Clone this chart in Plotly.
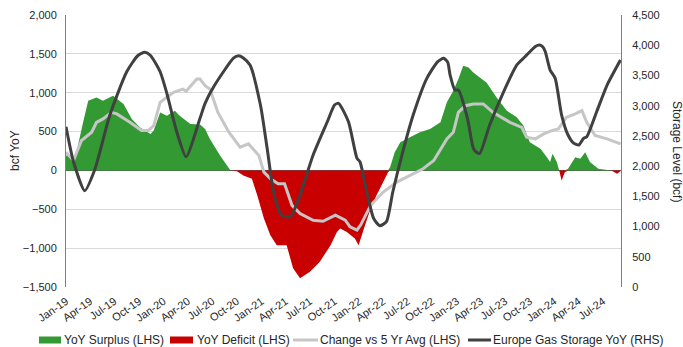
import numpy as np
import plotly.graph_objects as go

# YoY surplus / deficit vs last year (bcf, LHS)
yoy_dates = [
    "2019-01-01", "2019-02-05", "2019-03-06", "2019-03-25", "2019-04-25", "2019-05-19",
    "2019-06-26", "2019-08-04", "2019-09-04", "2019-10-04", "2019-11-13", "2019-11-25",
    "2019-12-19", "2020-01-13", "2020-02-12", "2020-03-01", "2020-04-10", "2020-05-16",
    "2020-06-04", "2020-06-22", "2020-07-30", "2020-09-07", "2020-10-01", "2020-10-25",
    "2020-11-26", "2020-12-16", "2021-01-10", "2021-02-03", "2021-02-27", "2021-04-05",
    "2021-04-29", "2021-05-25", "2021-07-01", "2021-08-07", "2021-09-16", "2021-10-10",
    "2021-10-22", "2021-11-16", "2021-12-16", "2021-12-30", "2022-01-19", "2022-02-13",
    "2022-03-07", "2022-04-01", "2022-04-19", "2022-04-27", "2022-05-14", "2022-06-04",
    "2022-07-10", "2022-08-16", "2022-09-23", "2022-11-01", "2022-11-25", "2022-12-19",
    "2023-01-07", "2023-01-25", "2023-02-14", "2023-03-04", "2023-03-28", "2023-04-22",
    "2023-05-30", "2023-07-07", "2023-08-13", "2023-09-07", "2023-10-01", "2023-11-10",
    "2023-12-04", "2023-12-16", "2023-12-25", "2024-01-10", "2024-01-19", "2024-01-28",
    "2024-02-09", "2024-02-21", "2024-03-19", "2024-04-07", "2024-04-25", "2024-05-13",
    "2024-06-13", "2024-07-10", "2024-08-01", "2024-08-22", "2024-09-04",
]
yoy_values = [
    192, 171, 619, 897, 940, 897,
    962, 855, 663, 555, 470, 513,
    747, 705, 769, 705, 599, 590,
    534, 406, 192, 0, -10, -64,
    -106, -321, -619, -833, -962, -962,
    -1260, -1389, -1304, -1176, -962, -791,
    -748, -791, -876, -962, -748, -491,
    -321, -150, -22, 43, 235, 363,
    427, 491, 534, 619, 876, 1026,
    1176, 1346, 1325, 1260, 1197, 1132,
    940, 769, 683, 577, 363, 278,
    171, 107, 214, 107, 0, -128,
    -22, 22, 171, 150, 235, 107,
    22, 10, 0, -43, -10,
]

# Change vs 5-year average (bcf, LHS)
avg_dates = [
    "2019-01-01", "2019-01-29", "2019-02-28", "2019-04-07", "2019-04-25", "2019-05-19",
    "2019-06-20", "2019-07-10", "2019-08-28", "2019-10-10", "2019-11-04", "2019-11-25",
    "2019-12-19", "2020-02-07", "2020-03-13", "2020-03-25", "2020-05-04", "2020-05-16",
    "2020-06-04", "2020-06-22", "2020-07-22", "2020-09-01", "2020-10-13", "2020-11-13",
    "2020-12-22", "2021-01-10", "2021-02-03", "2021-03-04", "2021-03-28", "2021-04-25",
    "2021-05-25", "2021-07-13", "2021-08-19", "2021-10-04", "2021-11-10", "2021-11-28",
    "2021-12-24", "2022-01-07", "2022-02-13", "2022-04-01", "2022-05-22", "2022-07-10",
    "2022-08-28", "2022-10-07", "2022-11-01", "2022-11-25", "2022-12-19", "2023-01-07",
    "2023-02-02", "2023-03-04", "2023-04-10", "2023-05-16", "2023-07-19", "2023-09-01",
    "2023-09-19", "2023-10-22", "2023-11-22", "2023-12-22", "2024-01-16", "2024-02-15",
    "2024-03-19", "2024-04-13", "2024-05-01", "2024-06-01", "2024-07-16", "2024-09-04",
]
avg_values = [
    235, 128, 385, 491, 619, 663,
    747, 727, 619, 513, 513, 577,
    876, 1004, 1047, 1020, 1176, 1176,
    1090, 1047, 747, 491, 299, 342,
    192, -22, -106, -171, -171, -449,
    -555, -641, -654, -577, -641, -727,
    -769, -700, -449, -278, -150, -64,
    22, 128, 278, 406, 491, 747,
    833, 855, 855, 747, 619, 555,
    427, 406, 470, 513, 534, 683,
    727, 769, 619, 449, 406, 342,
]

# Europe gas storage level (bcf, RHS)
storage_dates = [
    "2019-01-01", "2019-01-29", "2019-03-12", "2019-04-18", "2019-06-14", "2019-08-16",
    "2019-09-27", "2019-10-23", "2019-11-13", "2019-12-19", "2020-01-13", "2020-02-19",
    "2020-03-25", "2020-05-16", "2020-06-04", "2020-07-10", "2020-09-19", "2020-10-07",
    "2020-10-25", "2020-11-19", "2020-12-28", "2021-01-22", "2021-02-15", "2021-03-16",
    "2021-04-19", "2021-05-25", "2021-07-13", "2021-09-04", "2021-10-01", "2021-10-16",
    "2021-11-22", "2021-12-24", "2022-01-04", "2022-02-01", "2022-02-24", "2022-03-19",
    "2022-04-13", "2022-05-07", "2022-06-10", "2022-07-22", "2022-09-11", "2022-10-22",
    "2022-11-13", "2022-11-28", "2022-12-07", "2022-12-25", "2023-01-07", "2023-02-10",
    "2023-03-04", "2023-03-16", "2023-03-28", "2023-05-04", "2023-06-25", "2023-08-13",
    "2023-09-13", "2023-10-22", "2023-11-07", "2023-11-19", "2023-11-28", "2023-12-16",
    "2024-01-04", "2024-01-28", "2024-02-21", "2024-03-13", "2024-04-01", "2024-04-19",
    "2024-05-01", "2024-06-07", "2024-07-16", "2024-09-04",
]
storage_values = [
    2651, 2073, 1593, 1935, 2845, 3561,
    3830, 3882, 3830, 3561, 3204, 2569,
    2155, 2790, 3038, 3341, 3790, 3826,
    3790, 3672, 3010, 2294, 1576, 1191,
    1163, 1522, 2183, 2734, 3010, 3038,
    2734, 2129, 2073, 1522, 1136, 1014,
    1080, 1576, 2183, 2845, 3452, 3730,
    3783, 3720, 3506, 3258, 3258, 2790,
    2294, 2230, 2211, 2679, 3230, 3672,
    3809, 3980, 4003, 3970, 3892, 3589,
    3452, 2845, 2514, 2380, 2349, 2459,
    2486, 2900, 3341, 3755,
]

legend_labels = [
    "YoY Surplus (LHS)", "YoY Deficit (LHS)",
    "Change vs 5 Yr Avg (LHS)", "Europe Gas Storage YoY (RHS)",
]

GREEN = "#339933"
RED = "#C80000"
GREY = "#C6C6C6"
DARK = "#404040"
TEXT = "#262626"
FONT = "Arial, Liberation Sans, sans-serif"

W, H = 683, 347
ML, MR, MT, MB = 66, 62, 15, 60
PW, PH = W - ML - MR, H - MT - MB


def px(xp):
    return (xp - ML) / PW


def py(yp):
    return (H - MB - yp) / PH


yoy = np.array(yoy_values, dtype=float)
surplus = np.clip(yoy, 0, None)
deficit = np.clip(yoy, None, 0)

fig = go.Figure()
fig.add_trace(go.Scatter(
    x=yoy_dates, y=surplus, name=legend_labels[0], mode="none",
    fill="tozeroy", fillcolor=GREEN, showlegend=False,
))
fig.add_trace(go.Scatter(
    x=yoy_dates, y=deficit, name=legend_labels[1], mode="none",
    fill="tozeroy", fillcolor=RED, showlegend=False,
))
fig.add_trace(go.Scatter(
    x=avg_dates, y=avg_values, name=legend_labels[2], mode="lines",
    line=dict(color=GREY, width=3), showlegend=False,
))
fig.add_trace(go.Scatter(
    x=storage_dates, y=storage_values, name=legend_labels[3],
    mode="lines", yaxis="y2", showlegend=False,
    line=dict(color=DARK, width=3, shape="spline", smoothing=0.6),
))

# legend row beneath the axis labels: (symbol kind, colour, x0, x1, text x)
legend_y = 340
legend_items = [
    ("box", GREEN, 39, 61, 64),
    ("box", RED, 170, 193, 197),
    ("line", GREY, 293, 318, 320),
    ("line", DARK, 468, 491, 493),
]
shapes = []
annotations = []
for (kind, color, x0, x1, tx), label in zip(legend_items, legend_labels):
    if kind == "box":
        shapes.append(dict(
            type="rect", xref="paper", yref="paper",
            x0=px(x0), x1=px(x1), y0=py(legend_y + 3.5), y1=py(legend_y - 3.5),
            fillcolor=color, line=dict(width=0),
        ))
    else:
        shapes.append(dict(
            type="line", xref="paper", yref="paper",
            x0=px(x0), x1=px(x1), y0=py(legend_y), y1=py(legend_y),
            line=dict(color=color, width=3),
        ))
    annotations.append(dict(
        text=label, xref="paper", yref="paper", x=px(tx - 2), y=py(legend_y),
        xanchor="left", yanchor="middle", showarrow=False,
        font=dict(size=12, color=TEXT),
    ))

annotations += [
    dict(text="bcf YoY", xref="paper", yref="paper", x=px(15), y=0.5,
         textangle=-90, showarrow=False, xanchor="center", yanchor="middle",
         font=dict(size=12, color=TEXT)),
    dict(text="Storage Level (bcf)", xref="paper", yref="paper", x=px(677), y=0.5,
         textangle=90, showarrow=False, xanchor="center", yanchor="middle",
         font=dict(size=12, color=TEXT)),
]

fig.update_layout(
    width=W, height=H,
    margin=dict(l=ML, r=MR, t=MT, b=MB, autoexpand=False),
    paper_bgcolor="white", plot_bgcolor="white",
    font=dict(family=FONT, size=11, color=TEXT),
    showlegend=False,
    xaxis=dict(
        type="date", range=["2019-01-01", "2024-09-06"],
        tick0="2019-01-01", dtick="M3", tickformat="%b-%y",
        tickangle=-35, showgrid=False, showline=False, zeroline=False,
        ticks="", tickfont=dict(size=11, color=TEXT), automargin=False,
        ticklabelstandoff=5,
    ),
    yaxis=dict(
        range=[-1500, 2000], dtick=500, tickformat=",",
        showgrid=True, gridcolor="#D9D9D9", gridwidth=1,
        zeroline=True, zerolinecolor="#595959", zerolinewidth=1,
        showline=True, linecolor="#7F7F7F", linewidth=1,
        ticks="", ticklabelstandoff=6, automargin=False,
    ),
    yaxis2=dict(
        range=[0, 4500], dtick=500, tickformat=",",
        overlaying="y", side="right", showgrid=False, zeroline=False,
        showline=True, linecolor="#7F7F7F", linewidth=1,
        ticks="", ticklabelstandoff=8, automargin=False,
    ),
    shapes=shapes,
    annotations=annotations,
)

fig.write_html("out.html")
